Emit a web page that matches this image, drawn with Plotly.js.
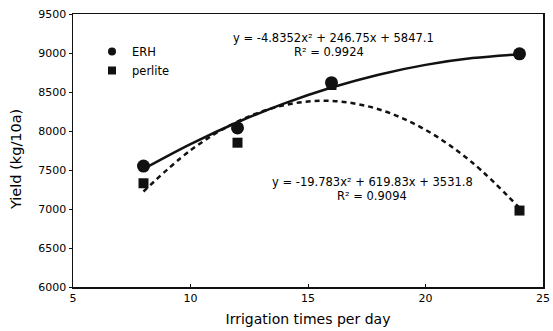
<!DOCTYPE html>
<html>
<head>
<meta charset="utf-8">
<script src="https://cdn.plot.ly/plotly-3.0.1.min.js"></script>
<style>html,body{margin:0;padding:0;background:#fff;}#chart{width:553px;height:331px;}</style>
</head>
<body>
<div id="chart"></div>
<script>
// Observed data
const irrigation = [8, 12, 16, 24];
const erhYield = [7550, 8040, 8620, 8990];
const perliteYield = [7330, 7850, 8590, 6980];

// Trendline points
const trendX = [8, 10, 12, 14, 16, 18, 20, 22, 24];
const erhTrend = [7512, 7831, 8112, 8354, 8557, 8722, 8848, 8935, 8984];
const perliteTrend = [7224, 7752, 8121, 8332, 8385, 8279, 8015, 7593, 7013];

const seriesNames = ['ERH', 'perlite'];
const erhEq = "y = -4.8352x² + 246.75x + 5847.1";
const erhR2 = "R² = 0.9924";
const perEq = "y = -19.783x² + 619.83x + 3531.8";
const perR2 = "R² = 0.9094";
const xTitle = 'Irrigation times per day';
const yTitle = 'Yield (kg/10a)';

const xTicks = [5, 10, 15, 20, 25];
const yTicks = [6000, 6500, 7000, 7500, 8000, 8500, 9000, 9500];

const FAM = '"DejaVu Sans", Arial, sans-serif';
const tickFont = {family: FAM, size: 11, color: '#000'};
const eqFont = {family: FAM, size: 11.5, color: '#000'};
const legFont = {family: FAM, size: 11.5, color: '#000'};

const traces = [
  {x: trendX, y: perliteTrend, mode: 'lines', line: {color: '#111', width: 2.5, dash: '5px,4px', shape: 'spline'}, showlegend: false, hoverinfo: 'skip'},
  {x: trendX, y: erhTrend, mode: 'lines', line: {color: '#111', width: 2.5, shape: 'spline'}, showlegend: false, hoverinfo: 'skip'},
  {x: irrigation, y: perliteYield, mode: 'markers', showlegend: false, marker: {symbol: 'square', size: 10, color: '#111'}},
  {x: irrigation, y: erhYield, mode: 'markers', showlegend: false, marker: {symbol: 'circle', size: 13, color: '#111'}},
  // legend-only entries (smaller legend symbols, as in the reference)
  {x: [null], y: [null], mode: 'markers', name: seriesNames[0], marker: {symbol: 'circle', size: 8, color: '#111'}},
  {x: [null], y: [null], mode: 'markers', name: seriesNames[1], marker: {symbol: 'square', size: 8, color: '#111'}}
];

function px(xp) { return (xp - 73) / 470; }
function py(yp) { return 1 - (yp - 14) / 273; }

const layout = {
  width: 553, height: 331,
  margin: {l: 73, r: 10, t: 14, b: 44},
  paper_bgcolor: '#fff', plot_bgcolor: '#fff',
  font: tickFont,
  showlegend: true,
  legend: {x: px(112 - 20), y: py(37), xanchor: 'left', yanchor: 'top', traceorder: 'normal', font: legFont, bgcolor: 'rgba(0,0,0,0)', itemwidth: 30, tracegroupgap: 0},
  xaxis: {
    range: [5, 25], tickvals: xTicks, ticktext: xTicks.map(String),
    showline: true, linecolor: '#111', linewidth: 1.5, mirror: true,
    ticks: 'inside', ticklen: 3, tickcolor: '#111', showgrid: false, zeroline: false,
    tickfont: tickFont,
    title: {text: xTitle, font: {family: FAM, size: 14, color: '#000'}, standoff: 10}
  },
  yaxis: {
    range: [6000, 9500], tickvals: yTicks, ticktext: yTicks.map(String),
    showline: true, linecolor: '#111', linewidth: 1.5, mirror: true,
    ticks: 'outside', ticklen: 3, tickcolor: '#111', showgrid: false, zeroline: false,
    tickfont: tickFont
  },
  annotations: [
    {xref: 'paper', yref: 'paper', x: px(16), y: py(160), text: yTitle, textangle: -90, showarrow: false, font: {family: FAM, size: 14.5, color: '#000'}, xanchor: 'center', yanchor: 'middle'},
    {xref: 'paper', yref: 'paper', x: px(333), y: py(38), text: erhEq, showarrow: false, font: eqFont, xanchor: 'center', yanchor: 'middle'},
    {xref: 'paper', yref: 'paper', x: px(329), y: py(52), text: erhR2, showarrow: false, font: eqFont, xanchor: 'center', yanchor: 'middle'},
    {xref: 'paper', yref: 'paper', x: px(372), y: py(182), text: perEq, showarrow: false, font: eqFont, xanchor: 'center', yanchor: 'middle'},
    {xref: 'paper', yref: 'paper', x: px(372), y: py(196), text: perR2, showarrow: false, font: eqFont, xanchor: 'center', yanchor: 'middle'}
  ]
};

Plotly.newPlot('chart', traces, layout, {staticPlot: true, displayModeBar: false});
</script>
</body>
</html>
